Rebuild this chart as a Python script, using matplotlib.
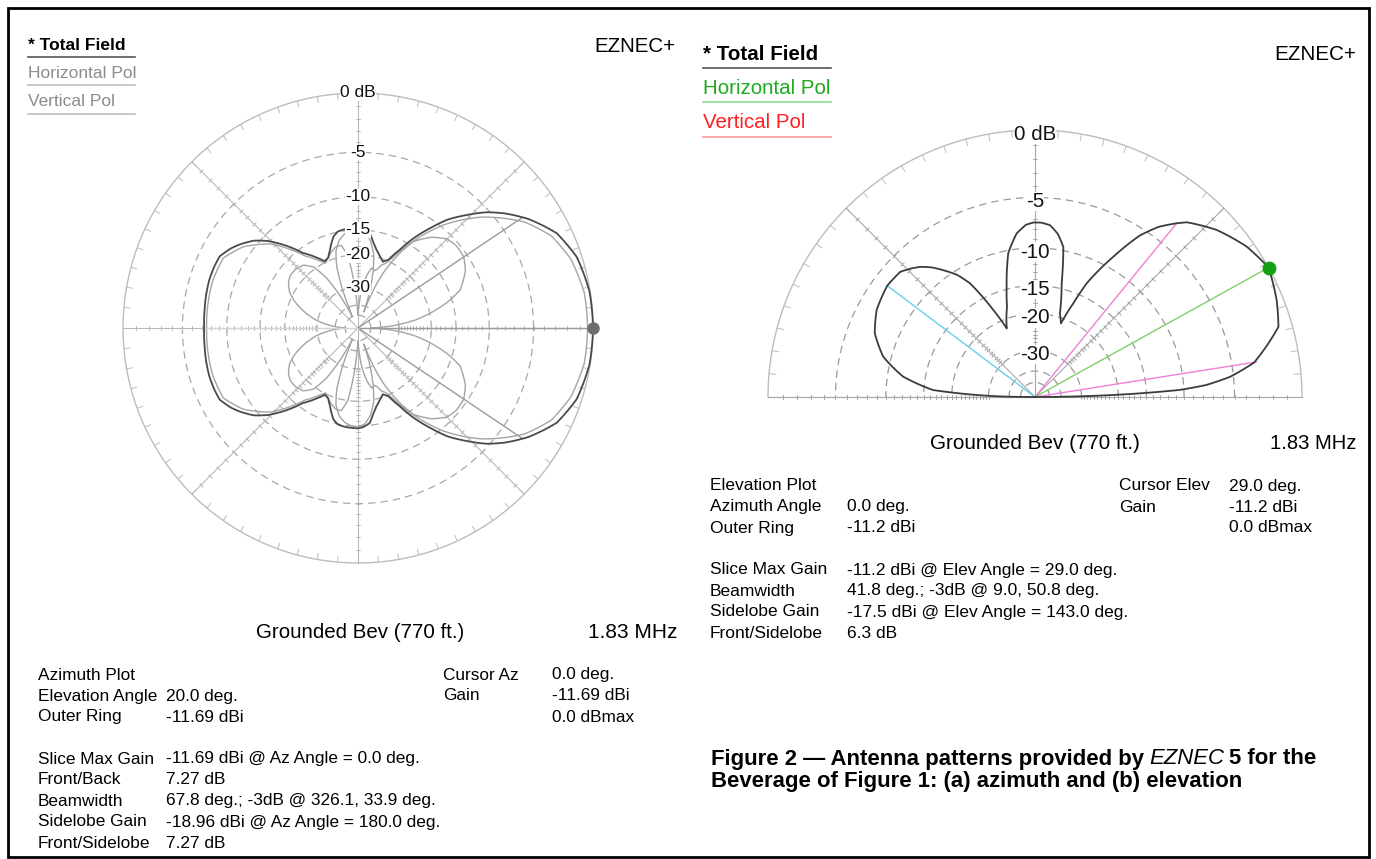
import numpy as np
import matplotlib
matplotlib.use("Agg")
from matplotlib import pyplot as plt
from matplotlib.patches import Rectangle

W, H = 1376, 859
plt.rcParams["font.family"] = ["Liberation Sans", "DejaVu Sans"]

# EZNEC "ARRL" log scale: radius shrinks by 0.89 for every 2 dB
RING_DB = [-5, -10, -15, -20, -30, -40, -50]
LABEL_DB = [0, -5, -10, -15, -20, -30]

# ---- azimuth plot (upper half, lower half is its mirror)
AZ_TOTAL_DEG = [0, 9, 18, 25.5, 32.5, 38, 42, 46, 50.6, 54, 58.3, 62, 66, 69.5, 73,
                76.8, 80, 83, 87, 90, 93, 97, 101.7, 105, 107.4, 110, 113, 116.5,
                120, 126.3, 131, 136, 140, 144.8, 148, 152.6, 157, 162, 168, 173, 180]
AZ_TOTAL_DB = [0.0, -0.05, -0.37, -1.12, -2.55, -4.0, -5.26, -6.9, -8.9, -11.0,
               -13.8, -16.8, -19.7, -20.6, -19.6, -18.4, -17.0, -15.4, -14.8, -14.6,
               -14.65, -14.7, -14.9, -15.6, -16.7, -18.0, -19.3, -19.7, -18.3, -15.9,
               -13.2, -10.8, -9.4, -8.3, -7.7, -7.06, -7.0, -7.0, -7.1, -7.2, -7.27]

AZ_VPOL_DEG = [0, 9, 18, 25.5, 32.5, 42, 50.6, 58.3, 64, 67, 69.5, 72, 74, 77, 80,
               84, 88, 90, 92, 95, 98, 101.5, 105, 109, 113, 116.5, 120, 126.3, 131,
               136, 144.8, 152.6, 162, 173, 180]
AZ_VPOL_DB = [-0.4, -0.45, -0.85, -1.6, -3.0, -6.0, -9.8, -14.8, -19.0, -20.8, -21.5,
              -23.0, -23.5, -23.0, -25.0, -30.0, -42.0, -50.0, -42.0, -28.0, -20.0,
              -17.6, -17.6, -18.3, -19.3, -20.2, -19.0, -16.6, -13.9, -11.4, -8.8,
              -7.5, -7.4, -7.5, -7.55]

AZ_HPOL_DEG = [0, 4.4, 8, 11.5, 16, 20.4, 28, 34, 40, 45, 51, 57.3, 61, 65.2, 68, 70,
               72, 75, 78, 82, 86, 90, 94, 98, 102, 106, 109, 112, 114, 116.5, 119,
               122, 126, 131, 137, 142, 146, 152, 157, 163, 169, 175, 180]
AZ_HPOL_DB = [-50, -31, -24, -20, -16, -13.2, -11.3, -10.5, -10.4, -10.7, -12.0,
              -14.2, -17.5, -23, -30, -45, -32, -24, -19.5, -16.8, -15.3, -14.9,
              -15.0, -15.5, -16.5, -18.5, -22, -30, -42, -50, -32, -24, -19.5, -17.8,
              -17.3, -17.3, -17.7, -19.0, -21, -24.5, -29, -37, -50]

AZ_CURSOR = 0.0
AZ_BEAM = [326.1, 33.9]
AZ_SIDELOBE = 180.0
AZ_FRONT_SIDE = 7.27

# ---- elevation plot
EL_DEG = [0, 0.5, 1.0, 1.5, 2.0, 2.8, 4.0, 5.9, 8.9, 11.6, 16.1, 21.9, 29.0, 35.4,
          42.6, 49.0, 50.8, 54.0, 57.0, 60.8, 63.0, 65.5, 67.8, 70.6, 73.4, 76.8,
          79.3, 82.0, 85.0, 88.0, 90.5, 93.0, 96.4, 100.5, 104.4, 107.2, 112.4,
          115.6, 119.8, 122.5, 125.8, 128.5, 131.4, 134.0, 137.1, 143.0, 151.2,
          158.3, 165.1, 171.2, 176.1, 178.0, 179.0, 180.0]
EL_DB = [-99, -40, -28, -21, -16, -10.5, -7.6, -5.3, -3.2, -2.3, -0.9, -0.43, 0.0,
         -0.48, -1.35, -2.45, -3.0, -4.1, -5.6, -8.7, -10.6, -13.0, -16.7, -21.1,
         -19.2, -14.2, -9.6, -8.3, -7.5, -7.3, -7.3, -7.5, -8.3, -10.3, -14.6,
         -17.8, -22.0, -17.5, -12.2, -10.5, -9.2, -8.2, -7.4, -6.9, -6.4, -6.3,
         -6.7, -7.5, -9.1, -11.9, -16.5, -26, -35, -99]

EL_CURSOR = 29.0
EL_BEAM = [9.0, 50.8]
EL_SIDELOBE = 143.0
EL_FRONT_SIDE = 6.3

AZ_INFO = [
    ["Azimuth Plot", "", "Cursor Az", "0.0 deg."],
    ["Elevation Angle", "20.0 deg.", "Gain", "-11.69 dBi"],
    ["Outer Ring", "-11.69 dBi", "", "0.0 dBmax"],
    None,
    ["Slice Max Gain", "-11.69 dBi @ Az Angle = 0.0 deg.", "", ""],
    ["Front/Back", "7.27 dB", "", ""],
    ["Beamwidth", "67.8 deg.; -3dB @ 326.1, 33.9 deg.", "", ""],
    ["Sidelobe Gain", "-18.96 dBi @ Az Angle = 180.0 deg.", "", ""],
    ["Front/Sidelobe", "7.27 dB", "", ""],
]
EL_INFO = [
    ["Elevation Plot", "", "Cursor Elev", "29.0 deg."],
    ["Azimuth Angle", "0.0 deg.", "Gain", "-11.2 dBi"],
    ["Outer Ring", "-11.2 dBi", "", "0.0 dBmax"],
    None,
    ["Slice Max Gain", "-11.2 dBi @ Elev Angle = 29.0 deg.", "", ""],
    ["Beamwidth", "41.8 deg.; -3dB @ 9.0, 50.8 deg.", "", ""],
    ["Sidelobe Gain", "-17.5 dBi @ Elev Angle = 143.0 deg.", "", ""],
    ["Front/Sidelobe", "6.3 dB", "", ""],
]


def arrl(db):
    return 0.89 ** (-np.asarray(db, dtype=float) / 2.0)


def mirror(deg, db):
    deg = np.asarray(deg, dtype=float)
    db = np.asarray(db, dtype=float)
    return np.concatenate([deg, 360 - deg[::-1]]), np.concatenate([db, db[::-1]])


def px(x, y):
    return x / W, 1 - y / H


def ftext(x, y, s, **kw):
    kw.setdefault("va", "center")
    return fig.text(*px(x, y), s, **kw)


def pattern(ax, deg, db, **kw):
    ln, = ax.plot(np.deg2rad(deg), arrl(db), clip_on=False, **kw)
    # let the polar transform draw each segment along the angle, not as a chord
    ln.get_path()._interpolation_steps = 24
    return ln


def radial_line(ax, deg, color, lw=0.8):
    th = np.deg2rad(deg)
    ax.plot([th, th], [0, 1], color=color, lw=lw, zorder=1, clip_on=False)
    ticks = arrl(np.arange(-1, -31, -1))
    ax.plot(np.full(len(ticks), th), ticks, ls="none", marker=(2, 2, deg),
            ms=3.5, mew=0.55, color=color, zorder=1)


def grid(ax, tmax, ring_c, dash_c, axis_c):
    circ = np.linspace(0, np.deg2rad(tmax), 361)
    ax.plot(circ, np.ones(len(circ)), color=ring_c, lw=1.0, zorder=1, clip_on=False)
    for db in RING_DB:
        ax.plot(circ, np.full(len(circ), arrl(db)), color=dash_c, lw=0.9,
                ls=(0, (6, 4)), zorder=1)
    for d in np.arange(0, tmax + 1, 5):
        th = np.deg2rad(d)
        ax.plot([th, th], [0.975, 1.0], color=ring_c, lw=0.7, zorder=1)
    for d in np.arange(0, 360, 45):
        if d <= tmax:
            radial_line(ax, d, axis_c)
    ax.spines["polar"].set_visible(False)
    ax.set_ylim(0, 1)
    ax.set_xticks([])
    ax.set_yticks([])
    ax.grid(False)
    ax.set_facecolor("none")


def ray(ax, deg, db, color):
    th = np.deg2rad(deg)
    ax.plot([th, th], [0, arrl(db)], color=color, lw=1.0, zorder=3)


def polar_axes(center, radius):
    return fig.add_axes([(center[0] - radius) / W, 1 - (center[1] + radius) / H,
                         2 * radius / W, 2 * radius / H], projection="polar")


fig = plt.figure(figsize=(W / 100, H / 100), dpi=100)
fig.patch.set_facecolor("white")

# ---------------- azimuth
ax1 = polar_axes((358, 328), 235)
grid(ax1, 360, "#bdbdbd", "#a8a8a8", "#b8b8b8")

for deg, db, col, lw, z in [(AZ_HPOL_DEG, AZ_HPOL_DB, "#a4a4a4", 1.0, 2),
                            (AZ_VPOL_DEG, AZ_VPOL_DB, "#a4a4a4", 1.0, 2),
                            (AZ_TOTAL_DEG, AZ_TOTAL_DB, "#4a4a4a", 1.3, 4)]:
    d, v = mirror(deg, db)
    pattern(ax1, d, v, color=col, lw=lw, zorder=z)

ray(ax1, AZ_CURSOR, 0, "#9a9a9a")
for b in AZ_BEAM:
    ray(ax1, b, -3, "#9a9a9a")
ray(ax1, AZ_SIDELOBE, -AZ_FRONT_SIDE, "#d4d4d4")
ax1.plot(np.deg2rad(AZ_CURSOR), 1, "o", ms=8, color="#6e6e6e", zorder=6, clip_on=False)

for db in LABEL_DB:
    ax1.text(np.pi / 2, arrl(db), "0 dB" if db == 0 else str(db), ha="center",
             va="center", fontsize=12.5, color="#111111", zorder=5,
             bbox=dict(facecolor="white", edgecolor="none", pad=0.2))

# ---------------- elevation (upper half of a full polar frame)
ax2 = polar_axes((1035, 397), 267)
grid(ax2, 180, "#bdbdbd", "#9a9a9a", "#a8a8a8")
radial_line(ax2, 180, "#a8a8a8")

pattern(ax2, EL_DEG, EL_DB, color="#3c3c3c", lw=1.3, zorder=4)
ray(ax2, EL_CURSOR, 0, "#7fd06a")
for b in EL_BEAM:
    ray(ax2, b, -3, "#ee80d6")
ray(ax2, EL_SIDELOBE, -EL_FRONT_SIDE, "#66d0ea")
ax2.plot(np.deg2rad(EL_CURSOR), 1, "o", ms=9, color="#13a013", zorder=6, clip_on=False)

for db in LABEL_DB:
    ax2.annotate("0 dB" if db == 0 else str(db), (np.pi / 2, arrl(db)),
                 xytext=(0, -3), textcoords="offset points", ha="center",
                 va="center", fontsize=14.8, color="#111111", zorder=5,
                 annotation_clip=False,
                 bbox=dict(facecolor="white", edgecolor="none", pad=0.2))

# ---------------- legends / headers
for x0, x1, ys, fs, gap, cols, ucols in [
        (28, 135, [45, 73, 102], 12.5, 12, ["black", "#8c8c8c", "#8c8c8c"],
         ["#555555", "#bdbdbd", "#bdbdbd"]),
        (703, 831, [54, 88, 123], 14.8, 14, ["black", "#1faa1f", "#ff2020"],
         ["#555555", "#8fdc8f", "#ff9a9a"])]:
    names = ["* Total Field", "Horizontal Pol", "Vertical Pol"]
    for i, (name, y) in enumerate(zip(names, ys)):
        ftext(x0, y, name, fontsize=fs, color=cols[i],
              weight="bold" if i == 0 else "normal")
        uy = y + gap
        fig.add_artist(plt.Line2D([x0 / W, x1 / W], [1 - uy / H, 1 - uy / H],
                                  color=ucols[i], lw=1.2))

ftext(676, 47, "EZNEC+", fontsize=14.8, ha="right")
ftext(1356, 54, "EZNEC+", fontsize=14.9, ha="right")
ftext(360, 633, "Grounded Bev (770 ft.)", fontsize=14.8, ha="center")
ftext(677, 633, "1.83 MHz", fontsize=15, ha="right")
ftext(1035, 443, "Grounded Bev (770 ft.)", fontsize=14.9, ha="center")
ftext(1356, 443, "1.83 MHz", fontsize=14.6, ha="right")

# ---------------- info blocks
for info, cols, y0, fs in [(AZ_INFO, [38, 166, 443, 552], 675, 12.4),
                           (EL_INFO, [710, 847, 1119, 1229], 486, 12.5)]:
    y = y0
    for row in info:
        if row is None:
            y += 21
            continue
        for x, s in zip(cols, row):
            if s:
                ftext(x, y, s, fontsize=fs)
        y += 21

# ---------------- caption
CAP_FS = 15.9
t1 = ftext(711, 759, "Figure 2 \u2014 Antenna patterns provided by", fontsize=CAP_FS,
           weight="bold")
ftext(711, 782, "Beverage of Figure 1: (a) azimuth and (b) elevation", fontsize=CAP_FS,
      weight="bold")
rend = fig.canvas.get_renderer()
xa = t1.get_window_extent(rend).x1 + 5
t2 = fig.text(xa / W, 1 - 759 / H, "EZNEC", fontsize=CAP_FS, style="italic",
              va="center")
xb = t2.get_window_extent(rend).x1 + 5
fig.text(xb / W, 1 - 759 / H, "5 for the", fontsize=CAP_FS, weight="bold", va="center")

# frame
fig.add_artist(Rectangle(px(8, 857), 1361 / W, 849 / H, fill=False, edgecolor="black",
                         lw=2, transform=fig.transFigure))

fig.savefig("out.png", dpi=100, facecolor="white")
